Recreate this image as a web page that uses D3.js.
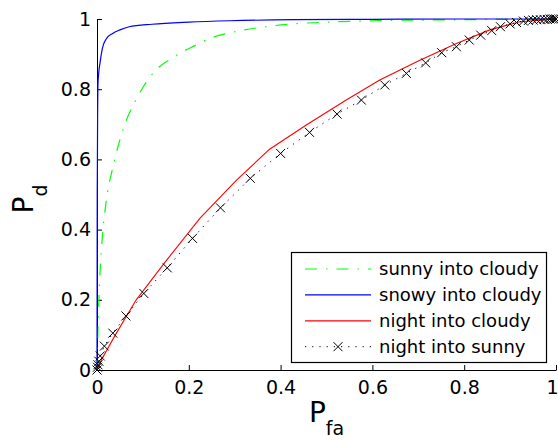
<!DOCTYPE html>
<html>
<head>
<meta charset="utf-8">
<script src="https://cdn.jsdelivr.net/npm/d3@7"></script>
<style>
  body { margin: 0; background: #fff; }
  svg { display: block; font-family: "DejaVu Sans", sans-serif; }
</style>
</head>
<body>
<div class="canvas"></div>
<script>
// ROC curves, P_fa on x, P_d on y
const sunnyCloudyX = [0, 0.001, 0.005, 0.01, 0.02, 0.035, 0.058, 0.085, 0.1, 0.136, 0.157, 0.18, 0.216, 0.237, 0.302, 0.367, 0.426, 0.5, 0.6, 0.8, 1];
const sunnyCloudyY = [0, 0.06, 0.23, 0.35, 0.48, 0.58, 0.69, 0.77, 0.805, 0.864, 0.883, 0.902, 0.926, 0.94, 0.964, 0.978, 0.986, 0.991, 0.995, 0.998, 1];

const snowyCloudyX = [0, 0.0005, 0.0015, 0.002, 0.004, 0.006, 0.012, 0.02, 0.034, 0.05, 0.07, 0.12, 0.2, 0.29, 0.43, 0.6, 0.8, 1];
const snowyCloudyY = [0, 0.5, 0.75, 0.81, 0.85, 0.87, 0.918, 0.943, 0.959, 0.969, 0.978, 0.985, 0.991, 0.995, 0.998, 0.999, 1, 1];

const nightCloudyX = [0, 0.01, 0.04, 0.0855, 0.15, 0.224, 0.304, 0.376, 0.456, 0.543, 0.616, 0.7, 0.783, 0.856, 0.921, 1];
const nightCloudyY = [0, 0.03, 0.1, 0.2, 0.31, 0.432, 0.541, 0.629, 0.698, 0.769, 0.826, 0.88, 0.93, 0.969, 0.992, 1];

const nightSunnyX = [0, 0.001, 0.002, 0.004, 0.007, 0.016, 0.0345, 0.063, 0.102, 0.153, 0.208, 0.269, 0.334, 0.4, 0.463, 0.523, 0.576, 0.627, 0.674, 0.716, 0.751, 0.783, 0.811, 0.836, 0.86, 0.879, 0.9, 0.914, 0.929, 0.94, 0.95, 0.958, 0.966, 0.974, 0.981, 0.987, 0.992, 0.996, 1];
const nightSunnyY = [0, 0.008, 0.015, 0.025, 0.04, 0.068, 0.105, 0.154, 0.218, 0.291, 0.375, 0.462, 0.546, 0.617, 0.677, 0.729, 0.769, 0.812, 0.845, 0.875, 0.904, 0.921, 0.94, 0.954, 0.967, 0.978, 0.986, 0.99, 0.994, 0.996, 0.997, 0.998, 0.998, 0.999, 0.999, 1, 1, 1, 1];

const seriesNames = ['sunny into cloudy', 'snowy into cloudy', 'night into cloudy', 'night into sunny'];
const xTicks = [0, 0.2, 0.4, 0.6, 0.8, 1];
const yTicks = [0, 0.2, 0.4, 0.6, 0.8, 1];

const svg = d3.select('.canvas')
    .append('svg')
    .attr('width', 558)
    .attr('height', 440);

const margin = { top: 19, right: 2, bottom: 70, left: 97 };
const graphWidth = 558 - margin.left - margin.right;   // 459
const graphHeight = 440 - margin.top - margin.bottom;  // 351

const graph = svg.append('g')
    .attr('transform', `translate(${margin.left},${margin.top})`);

const x = d3.scaleLinear().domain([0, 1]).range([0, graphWidth]);
const y = d3.scaleLinear().domain([0, 1]).range([graphHeight, 0]);

// axes, ticks pointing inward, no box
const xAxis = d3.axisBottom(x)
    .tickValues(xTicks)
    .tickFormat(d => String(d))
    .tickSizeInner(-5)
    .tickSizeOuter(0)
    .tickPadding(11);

const yAxis = d3.axisLeft(y)
    .tickValues(yTicks)
    .tickFormat(d => String(d))
    .tickSizeInner(-5)
    .tickSizeOuter(0)
    .tickPadding(6);

const xAxisGroup = graph.append('g')
    .attr('transform', `translate(0, ${graphHeight})`)
    .call(xAxis);
const yAxisGroup = graph.append('g').call(yAxis);

[xAxisGroup, yAxisGroup].forEach(g => {
    g.selectAll('text').attr('font-size', 19).attr('fill', '#000').attr('font-family', '"DejaVu Sans", sans-serif');
    g.selectAll('path, line').attr('stroke', '#000');
});

// last x label sits on the right edge, keep it inside the picture
xAxisGroup.selectAll('.tick text')
    .filter(d => d === 1)
    .attr('text-anchor', 'end')
    .attr('x', 2);

const zip = (xs, ys) => xs.map((v, i) => [v, ys[i]]);

const lineSmooth = d3.line().x(d => x(d[0])).y(d => y(d[1])).curve(d3.curveMonotoneX);
const lineStraight = d3.line().x(d => x(d[0])).y(d => y(d[1]));

const styles = [
    { color: '#00ff00', dash: '12,9,1.5,9' },
    { color: '#0000ff', dash: null },
    { color: '#ff0000', dash: null },
    { color: '#000000', dash: '1.2,6' }
];

graph.append('path')
    .attr('d', lineSmooth(zip(sunnyCloudyX, sunnyCloudyY)))
    .attr('fill', 'none').attr('stroke', styles[0].color).attr('stroke-width', 1.2)
    .attr('stroke-dasharray', styles[0].dash);

graph.append('path')
    .attr('d', lineSmooth(zip(snowyCloudyX, snowyCloudyY)))
    .attr('fill', 'none').attr('stroke', styles[1].color).attr('stroke-width', 1.2);

graph.append('path')
    .attr('d', lineStraight(zip(nightCloudyX, nightCloudyY)))
    .attr('fill', 'none').attr('stroke', styles[2].color).attr('stroke-width', 1.1);

graph.append('path')
    .attr('d', lineStraight(zip(nightSunnyX, nightSunnyY)))
    .attr('fill', 'none').attr('stroke', styles[3].color).attr('stroke-width', 1)
    .attr('stroke-dasharray', styles[3].dash);

const crossPath = 'M-4.5,-4.5L4.5,4.5M-4.5,4.5L4.5,-4.5';

graph.selectAll('.cross')
    .data(zip(nightSunnyX, nightSunnyY))
    .enter()
    .append('path')
    .attr('class', 'cross')
    .attr('transform', d => `translate(${x(d[0])},${y(d[1])})`)
    .attr('d', crossPath)
    .attr('stroke', '#000')
    .attr('stroke-width', 1)
    .attr('fill', 'none');

// axis labels
svg.append('text')
    .attr('x', margin.left + graphWidth / 2)
    .attr('y', 422)
    .attr('text-anchor', 'middle')
    .attr('font-size', 28)
    .text('P')
    .append('tspan')
    .attr('font-size', 19)
    .attr('dy', 13)
    .text('fa');

svg.append('text')
    .attr('transform', 'translate(33,199) rotate(-90)')
    .attr('text-anchor', 'middle')
    .attr('font-size', 28)
    .text('P')
    .append('tspan')
    .attr('font-size', 19)
    .attr('dy', 14)
    .text('d');

// legend
const legend = svg.append('g').attr('transform', 'translate(291.5,252.5)');

legend.append('rect')
    .attr('width', 255)
    .attr('height', 110)
    .attr('fill', '#fff')
    .attr('stroke', '#000')
    .attr('stroke-width', 1.2);

const items = legend.selectAll('.item')
    .data(seriesNames)
    .enter()
    .append('g')
    .attr('transform', (d, i) => `translate(0, ${16.5 + i * 25.9})`);

items.append('line')
    .attr('x1', 13.5).attr('x2', 79.5)
    .attr('stroke', (d, i) => styles[i].color)
    .attr('stroke-width', (d, i) => i === 3 ? 1 : 1.2)
    .attr('stroke-dasharray', (d, i) => styles[i].dash);

items.filter((d, i) => i === 3)
    .append('path')
    .attr('transform', 'translate(46.5,0)')
    .attr('d', crossPath)
    .attr('stroke', '#000')
    .attr('fill', 'none');

items.append('text')
    .attr('x', 87.5)
    .attr('dy', '0.36em')
    .attr('font-size', 18)
    .text(d => d);
</script>
</body>
</html>
